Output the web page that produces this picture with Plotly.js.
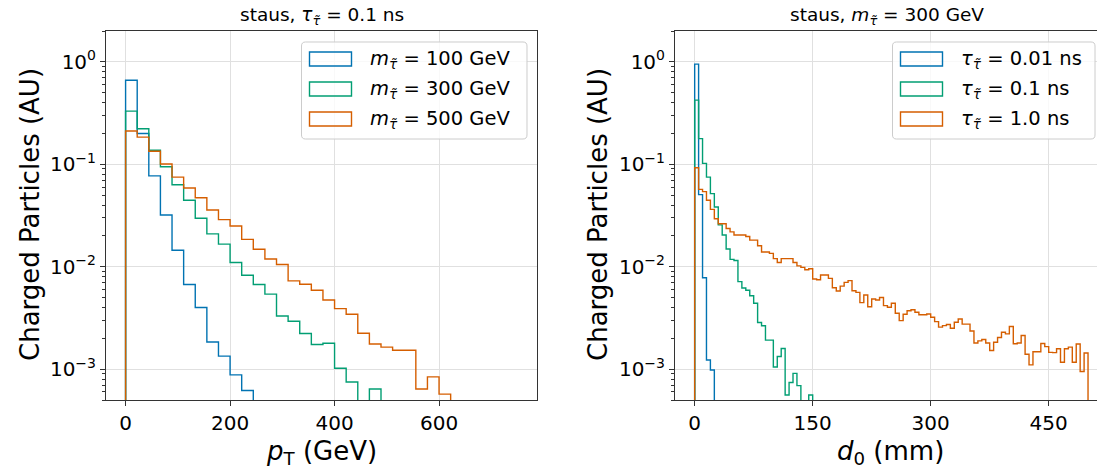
<!DOCTYPE html>
<html><head><meta charset="utf-8">
<script src="https://cdn.plot.ly/plotly-3.0.1.min.js"></script>
<style>html,body{margin:0;padding:0;background:#fff}#chart{width:1097px;height:468px}</style>
</head><body><div id="chart"></div>
<script>
// ---------------- data ----------------
const PT_BIN_WIDTH = 800 / 36;   // GeV per bin
const D0_BIN_WIDTH = 5;          // mm per bin

const ptSeriesNames = ['<i>m</i><sub><i>τ̃</i></sub> = 100 GeV', '<i>m</i><sub><i>τ̃</i></sub> = 300 GeV', '<i>m</i><sub><i>τ̃</i></sub> = 500 GeV'];
const d0SeriesNames = ['<i>τ</i><sub><i>τ̃</i></sub> = 0.01 ns', '<i>τ</i><sub><i>τ̃</i></sub> = 0.1 ns', '<i>τ</i><sub><i>τ̃</i></sub> = 1.0 ns'];

const ptMass100 = [0.66, 0.20, 0.077, 0.032, 0.0145, 0.0067, 0.0040, 0.00184, 0.00134, 0.00088, 0.00062, 0, 0];
const ptMass300 = [0.33, 0.222, 0.137, 0.0946, 0.0632, 0.0445, 0.0297, 0.0209, 0.0166, 0.011, 0.00826, 0.0067,
  0.0054, 0.0033, 0.00294, 0.00223, 0.00174, 0.00179, 0.00102, 0.00075, 0, 0.00064, 0, 0];
const ptMass500 = [0.211, 0.184, 0.134, 0.1005, 0.075, 0.0587, 0.0472, 0.0358, 0.0288, 0.025, 0.0185, 0.0148,
  0.0119, 0.0105, 0.00727, 0.00675, 0.0059, 0.00474, 0.0039, 0.00344, 0.00224, 0.00176, 0.00164, 0.00153,
  0.00153, 0.00064, 0.00084, 0.00057, 0, 0];

const d0Tau001 = [0.95, 0.0505, 0.0078, 0.00123, 0.00098, 0, 0];
const d0Tau01 = [0.423, 0.178, 0.102, 0.075, 0.0517, 0.0383, 0.0256, 0.0204, 0.0149, 0.0118, 0.0115, 0.00716,
  0.0062, 0.0059, 0.0052, 0.0044, 0.00285, 0.00265, 0.00192, 0.00192, 0.00105, 0.00133, 0.00159, 0.00056,
  0.00074, 0.00091, 0.00069, 0, 0, 0.00056, 0, 0];
const d0Tau1 = [0.0925, 0.0569, 0.0541, 0.0445, 0.0363, 0.0294, 0.0263, 0.0263, 0.0236, 0.0219,
  0.0204, 0.0204, 0.0204, 0.0197, 0.0182, 0.0182, 0.0160, 0.0139, 0.0139, 0.0135,
  0.0120, 0.0110, 0.0120, 0.0120, 0.0120, 0.0110, 0.0102, 0.00986, 0.00933, 0.00955,
  0.00759, 0.00746, 0.00830, 0.00830, 0.00769, 0.00624, 0.00579, 0.00646, 0.00703, 0.00731,
  0.00583, 0.00562, 0.00446, 0.00530, 0.00407, 0.00484, 0.00473, 0.00501, 0.00417, 0.00402,
  0.00440, 0.00351, 0.00298, 0.00344, 0.00372, 0.00380, 0.00359, 0.00340, 0.00340, 0.00346,
  0.00321, 0.00291, 0.00257, 0.00266, 0.00273, 0.00251, 0.00287, 0.00309, 0.00275, 0.00275,
  0.00236, 0.00180, 0.00189, 0.00195, 0.00180, 0.00152, 0.00183, 0.00204, 0.00229, 0.00221,
  0.00261, 0.00177, 0.00180, 0.00213, 0.00140, 0.00110, 0.00148, 0.00148, 0.00178, 0.00166,
  0.00146, 0.00145, 0.00158, 0.00117, 0.00158, 0.00164, 0.00117, 0.00176, 0.00095, 0.00144];

const yTickVals = [1e-3, 1e-2, 1e-1, 1];
const yTickText = ['10<sup>−3</sup>', '10<sup>−2</sup>', '10<sup>−1</sup>', '10<sup>0</sup>'];
const ptTickVals = [0, 200, 400, 600];
const d0TickVals = [0, 150, 300, 450];

const leftTitle = 'staus, <i>τ</i><sub><i>τ̃</i></sub> = 0.1 ns';
const rightTitle = 'staus, <i>m</i><sub><i>τ̃</i></sub> = 300 GeV';
const yLabel = 'Charged Particles (AU)';
const ptLabel = '<i>p</i><sub>T</sub> (GeV)';
const d0Label = '<i>d</i><sub>0</sub> (mm)';

// ---------------- styling ----------------
const COLORS = ['#0173b2', '#029e73', '#d55e00'];
const W = 1097, H = 468;
const FONT = 'DejaVu Sans, Arial, sans-serif';
const FLOOR = 1e-6;

function stepXY(values, width) {
  const x = [0], y = [FLOOR];
  values.forEach((v, i) => { x.push(i * width); y.push(v > 0 ? v : FLOOR); });
  const n = values.length;
  const last = values[n - 1] > 0 ? values[n - 1] : FLOOR;
  x.push(n * width); y.push(last);
  x.push(n * width); y.push(FLOOR);
  return {x, y};
}
function trace(values, width, color, xa, ya) {
  const s = stepXY(values, width);
  return {type: 'scatter', mode: 'lines', x: s.x, y: s.y, xaxis: xa, yaxis: ya,
    line: {color: color, width: 1.4, shape: 'hv'}, showlegend: false, hoverinfo: 'skip'};
}
const px = v => v / W;
const py = v => 1 - v / H;

const data = [
  trace(ptMass100, PT_BIN_WIDTH, COLORS[0], 'x', 'y'),
  trace(ptMass300, PT_BIN_WIDTH, COLORS[1], 'x', 'y'),
  trace(ptMass500, PT_BIN_WIDTH, COLORS[2], 'x', 'y'),
  trace(d0Tau001, D0_BIN_WIDTH, COLORS[0], 'x2', 'y2'),
  trace(d0Tau01, D0_BIN_WIDTH, COLORS[1], 'x2', 'y2'),
  trace(d0Tau1, D0_BIN_WIDTH, COLORS[2], 'x2', 'y2'),
];

const minorVals = [];
for (let d = -4; d <= 0; d++) for (let m = 2; m <= 9; m++) minorVals.push(m * Math.pow(10, d));

const axisCommon = {
  showline: true, linecolor: '#333', linewidth: 1, ticks: 'outside', ticklen: 5, tickwidth: 1,
  tickcolor: '#333', showgrid: true, gridcolor: '#e0e0e0', gridwidth: 1, zeroline: false,
  tickfont: {family: FONT, size: 20, color: '#000'}, automargin: false, fixedrange: true
};
const yDomain = [py(400), py(31)];
function yAxis(anchor, mirror) {
  return Object.assign({}, axisCommon, {
    type: 'log', range: [Math.log10(5e-4), Math.log10(2)], domain: yDomain, anchor: anchor,
    tickmode: 'array', tickvals: yTickVals, ticktext: yTickText, mirror: mirror,
    minor: {tickmode: 'array', tickvals: minorVals, ticks: 'outside', ticklen: 3, tickcolor: '#333', showgrid: false}
  });
}

function roundRect(x0, y0, x1, y1, r) {
  const p = (x, y) => px(x).toFixed(5) + ',' + py(y).toFixed(5);
  return 'M' + p(x0 + r, y0) + ' L' + p(x1 - r, y0) + ' Q' + p(x1, y0) + ' ' + p(x1, y0 + r) +
    ' L' + p(x1, y1 - r) + ' Q' + p(x1, y1) + ' ' + p(x1 - r, y1) +
    ' L' + p(x0 + r, y1) + ' Q' + p(x0, y1) + ' ' + p(x0, y1 - r) +
    ' L' + p(x0, y0 + r) + ' Q' + p(x0, y0) + ' ' + p(x0 + r, y0) + ' Z';
}

const shapes = [], annotations = [];
function legend(x0, x1, names) {
  shapes.push({type: 'path', xref: 'paper', yref: 'paper', path: roundRect(x0, 42, x1, 139, 4),
    line: {color: '#cccccc', width: 1}, fillcolor: 'rgba(255,255,255,0.8)'});
  names.forEach((nm, i) => {
    const cy = 59 + 30 * i;
    shapes.push({type: 'rect', xref: 'paper', yref: 'paper', x0: px(x0 + 8), x1: px(x0 + 50),
      y0: py(cy + 7), y1: py(cy - 7), line: {color: COLORS[i], width: 1.4}, fillcolor: 'rgba(0,0,0,0)'});
    annotations.push({xref: 'paper', yref: 'paper', x: px(x0 + 66), y: py(cy + 1), xanchor: 'left', yanchor: 'middle',
      text: nm, showarrow: false, font: {family: FONT, size: 19.5, color: '#000'}});
  });
}
legend(301.5, 527, ptSeriesNames);
legend(892.5, 1095, d0SeriesNames);

function addText(x, y, text, size, angle) {
  annotations.push({xref: 'paper', yref: 'paper', x: px(x), y: py(y), xanchor: 'center', yanchor: 'middle',
    text: text, showarrow: false, textangle: angle || 0, font: {family: FONT, size: size, color: '#000'}});
}
addText(321.5, 16, leftTitle, 18.5);
addText(887, 16, rightTitle, 18.5);
addText(30, 215, yLabel, 26, -90);
addText(598, 215, yLabel, 26, -90);
addText(321.5, 452, ptLabel, 26);
addText(890, 452, d0Label, 26);

const layout = {
  width: W, height: H, margin: {l: 0, r: 0, t: 0, b: 0}, paper_bgcolor: '#fff', plot_bgcolor: '#fff',
  showlegend: false, font: {family: FONT, color: '#000'},
  xaxis: Object.assign({}, axisCommon, {domain: [px(106), px(537)], range: [-37.5, 787.5], anchor: 'y',
    tickmode: 'array', tickvals: ptTickVals, mirror: true}),
  yaxis: yAxis('x', true),
  xaxis2: Object.assign({}, axisCommon, {domain: [px(675), 1], range: [-25, 511.4], anchor: 'y2',
    tickmode: 'array', tickvals: d0TickVals, mirror: true}),
  yaxis2: yAxis('x2', false),
  shapes: shapes, annotations: annotations
};
Plotly.newPlot('chart', data, layout, {staticPlot: true, displayModeBar: false});
</script></body></html>
